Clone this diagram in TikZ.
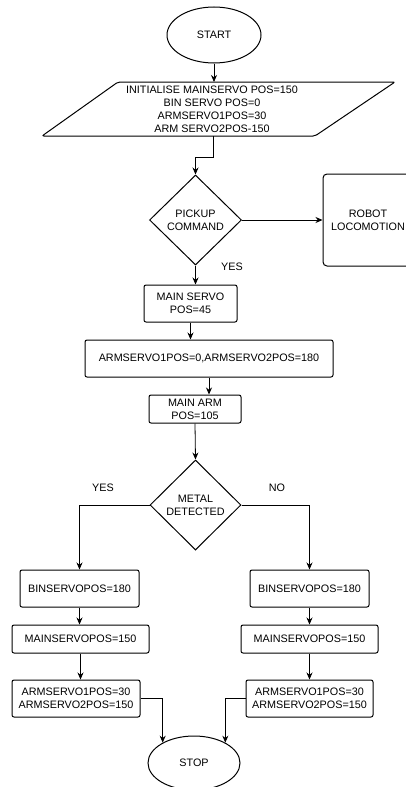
\documentclass[tikz,border=0pt]{standalone}
\usepackage{fontspec}
\setmainfont{Liberation Sans}
\usetikzlibrary{shapes.geometric,arrows.meta}
\begin{document}
\begin{tikzpicture}[x=1pt,y=-1pt,
  font=\fontsize{10.8}{13}\selectfont,
  shape line/.style={draw=black,line width=1pt},
  procbox/.style={shape line,rectangle,rounded corners=2pt,align=center,inner sep=1pt},
  decbox/.style={shape line,diamond,align=center,inner sep=0pt},
  termbox/.style={shape line,ellipse,inner sep=0pt},
  flow/.style={draw=black,line width=0.8pt,-{Stealth[length=7pt,width=6pt]}},
  lbl/.style={inner sep=0pt}]
\useasboundingbox (0,0) rectangle (406,787);
\fill[white] (0,0) rectangle (406,787);
% terminals
\node[termbox,minimum width=94,minimum height=56] (start) at (214,35) {START};
\node[termbox,minimum width=92,minimum height=54] (stop) at (194,763) {STOP};
% parallelogram
\draw[shape line,rounded corners=2pt] (42,136) -- (118,82) -- (395,82) -- (315,136) -- cycle;
\node[lbl,align=center] (init) at (212,109) {INITIALISE MAINSERVO POS=150\\BIN SERVO POS=0\\ARMSERVO1POS=30\\ARM SERVO2POS-150};
\coordinate (initTop) at (214,82);
\coordinate (initBot) at (213,136);
\coordinate (bend1) at (213,157);
% decisions
\node[decbox,minimum width=92,minimum height=90] (pickup) at (195.5,220) {PICKUP\\COMMAND};
\node[decbox,minimum width=91,minimum height=90] (metal) at (195.5,505) {METAL\\DETECTED};
% boxes
\node[procbox,minimum width=90,minimum height=92,rounded corners=4pt] (robot) at (368,220) {ROBOT\\LOCOMOTION};
\node[procbox,minimum width=93,minimum height=37] (mainservo) at (190.5,303.5) {MAIN SERVO\\POS=45};
\node[procbox,minimum width=248,minimum height=37] (armservo) at (209,358.5) {ARMSERVO1POS=0,ARMSERVO2POS=180};
\node[procbox,minimum width=92,minimum height=28] (mainarm) at (195,409) {MAIN ARM\\POS=105};
\node[procbox,minimum width=119,minimum height=37] (binL) at (79.5,588.5) {BINSERVOPOS=180};
\node[procbox,minimum width=137,minimum height=28] (mainL) at (80.5,639) {MAINSERVOPOS=150};
\node[procbox,minimum width=128,minimum height=37] (armL) at (76,698.5) {ARMSERVO1POS=30\\ARMSERVO2POS=150};
\node[procbox,minimum width=119,minimum height=37] (binR) at (309.5,588.5) {BINSERVOPOS=180};
\node[procbox,minimum width=137,minimum height=28] (mainR) at (309.5,639) {MAINSERVOPOS=150};
\node[procbox,minimum width=127,minimum height=37] (armR) at (309.5,698.5) {ARMSERVO1POS=30\\ARMSERVO2POS=150};
% labels
\node[lbl] (yes1) at (232,267) {YES};
\node[lbl] (yes2) at (103,488) {YES};
\node[lbl] (no2) at (277,488) {NO};
% connectors
\draw[flow] (start.south) -- (initTop);
\draw[flow] (initBot) -- (bend1) -| (pickup.north);
\draw[flow] (pickup.east) -- (robot.west);
\draw[flow] (pickup.south) -- (pickup.south |- mainservo.north);
\draw[flow] (mainservo.south) -- (mainservo.south |- armservo.north);
\draw[flow] (armservo.south) -- (armservo.south |- mainarm.north);
\draw[flow] (mainarm.south) -- (metal.north);
\draw[flow] (metal.west) -| (binL.north);
\draw[flow] (metal.east) -| (binR.north);
\draw[flow] (binL.south) -- (binL.south |- mainL.north);
\draw[flow] (mainL.south) -- (mainL.south |- armL.north);
\draw[flow] (binR.south) -- (mainR.north);
\draw[flow] (mainR.south) -- (armR.north);
\draw[flow] (armL.east) -| (stop.147);
\draw[flow] (armR.west) -| (stop.33);
\end{tikzpicture}
\end{document}
